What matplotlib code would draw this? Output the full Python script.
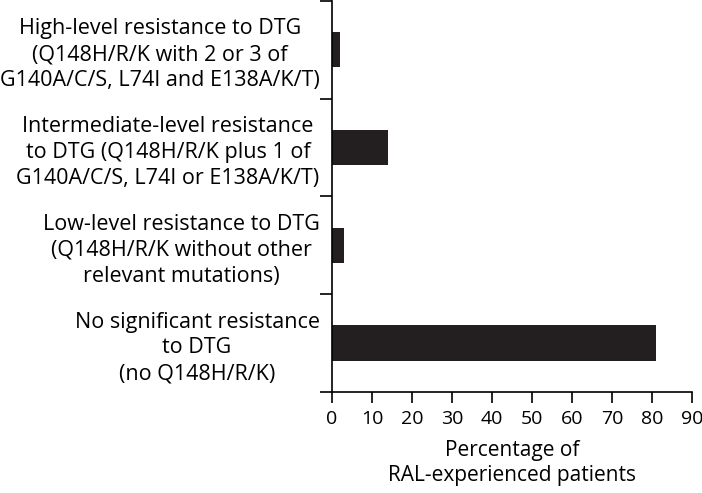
import matplotlib.pyplot as plt

# categories (top to bottom) and values
categorias = [
    'High-level resistance to DTG\n(Q148H/R/K with 2 or 3 of\nG140A/C/S, L74I and E138A/K/T)',
    'Intermediate-level resistance\nto DTG (Q148H/R/K plus 1 of\nG140A/C/S, L74I or E138A/K/T)',
    'Low-level resistance to DTG\n(Q148H/R/K without other\nrelevant mutations)',
    'No significant resistance\nto DTG\n(no Q148H/R/K)',
]
percentuais = [2, 14, 3, 81]
xticks = [0, 10, 20, 30, 40, 50, 60, 70, 80, 90]

plt.rcParams['font.family'] = ['Open Sans', 'DejaVu Sans']

fig = plt.figure(figsize=(7.02, 4.93), dpi=100)
ax = fig.add_axes([0.473, 0.205, 0.513, 0.793])

pos = list(range(len(categorias)))
ax.barh(pos, percentuais, height=0.36, color='#231f20')

ax.set_ylim(len(categorias) - 0.5, -0.5)
ax.set_xlim(0, 90)
ax.set_xticks(xticks)
ax.set_xticklabels([str(t) for t in xticks], fontsize=14)

ax.set_yticks(pos)
ax.set_yticklabels(categorias, fontsize=15.5, multialignment='center', linespacing=1.3)
ax.set_yticks([p - 0.5 for p in pos] + [len(categorias) - 0.5], minor=True)
ax.tick_params(axis='y', which='major', length=0, pad=9)
ax.tick_params(axis='y', which='minor', length=9, width=1.2)
ax.tick_params(axis='x', length=8, width=1.2, pad=5)

for s in ['top', 'right']:
    ax.spines[s].set_visible(False)
for s in ['left', 'bottom']:
    ax.spines[s].set_linewidth(1.2)

ax.set_xlabel('Percentage of\nRAL-experienced patients', fontsize=15, labelpad=9, linespacing=1.25)

plt.savefig('out.png', dpi=100)
